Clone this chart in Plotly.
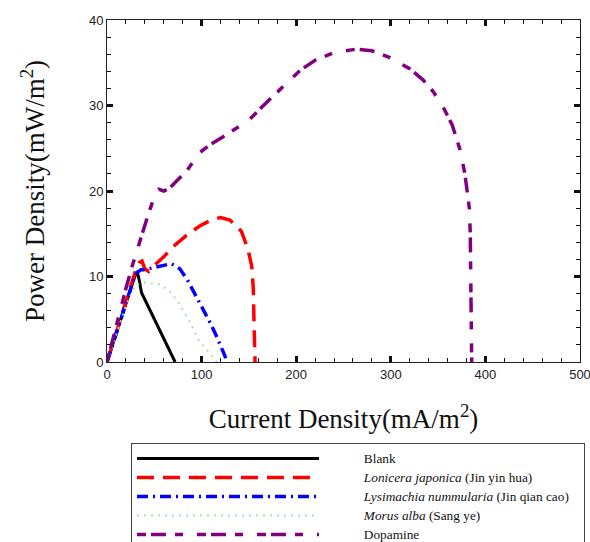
import plotly.graph_objects as go

# ---- data ----
blank_x = [0, 10, 20, 30, 32, 34, 36.5, 45, 55, 65, 72]
blank_y = [0, 3.4, 6.8, 10.2, 10.5, 9.6, 8.1, 6.2, 3.9, 1.6, 0]

lonicera_x = [0, 10, 20, 26, 30, 34, 37, 40, 44, 50, 60, 70, 84, 98, 110, 120, 130, 142, 149, 153, 154.7, 155.4, 156.4, 156.5]
lonicera_y = [0, 3.5, 7.0, 9.3, 10.6, 11.6, 11.8, 10.9, 10.6, 11.3, 12.3, 13.5, 14.8, 15.9, 16.6, 16.9, 16.6, 15.3, 13.2, 11.2, 8.5, 4.6, 0.7, 0]

lysimachia_x = [0, 10, 20, 28, 32, 36, 40, 50, 60, 68, 77, 85, 95, 100, 109, 115, 120, 124, 127]
lysimachia_y = [0, 3.4, 6.9, 9.6, 10.5, 10.8, 10.8, 11.0, 11.3, 11.5, 10.9, 9.6, 7.6, 6.6, 4.6, 3.2, 2.0, 0.9, 0]

morus_x = [0, 10, 20, 30, 40, 56, 68, 77, 88, 96, 105, 112, 116]
morus_y = [0, 3.3, 6.6, 9.0, 9.3, 9.1, 8.1, 6.7, 4.6, 2.7, 1.5, 0.6, 0]

dopamine_x = [0, 10, 20, 26, 32, 38, 44, 50, 55, 60, 66, 72, 84, 98, 110, 125, 150, 170, 190, 204, 220, 240, 264, 280, 299, 320, 334, 345, 355, 365, 373, 378, 380, 383, 384, 384.5, 385, 385.5]
dopamine_y = [0, 4.4, 8.6, 11.0, 13.2, 15.5, 17.4, 19.3, 20.2, 20.0, 20.3, 21.0, 22.3, 24.5, 25.5, 26.5, 28.3, 30.5, 32.6, 34.1, 35.3, 36.2, 36.6, 36.4, 35.6, 34.3, 33.0, 31.6, 29.9, 27.7, 24.9, 22.2, 20.6, 18.0, 15.1, 11.0, 7.3, 0]

names = [
    "Blank",
    "<i>Lonicera japonica</i> (Jin yin hua)",
    "<i>Lysimachia nummularia</i> (Jin qian cao)",
    "<i>Morus alba</i> (Sang ye)",
    "Dopamine",
]

x_ticks = [0, 100, 200, 300, 400, 500]
y_ticks = [0, 10, 20, 30, 40]

# legend text gap (space between sample line and label) and right padding
LEAD = "\u00a0" * 12
TRAIL = "\u00a0" * 3

# ---- figure ----
fig = go.Figure()
styles = [
    dict(color="#000000", width=3, dash="solid"),
    dict(color="#ff0000", width=3.5, dash="17px,9px"),
    dict(color="#0000ff", width=3.5, dash="11px,5px,2px,5px"),
    dict(color="#b2dcae", width=2, dash="2px,5px"),
    dict(color="#800080", width=3.5, dash="9px,5px,15px,9px,8px,14px"),
]
data = [(blank_x, blank_y), (lonicera_x, lonicera_y), (lysimachia_x, lysimachia_y),
        (morus_x, morus_y), (dopamine_x, dopamine_y)]
for i, ((xs, ys), nm, ln) in enumerate(zip(data, names, styles)):
    label = '<span style="font-size:13.3px">' + LEAD + nm + (TRAIL if i == 2 else "") + "</span>"
    fig.add_trace(go.Scatter(x=xs, y=ys, mode="lines", name=label, line=ln))

axis_common = dict(
    showline=True, linecolor="#222222", linewidth=1, mirror="allticks",
    ticks="inside", ticklen=6, tickwidth=3, tickcolor="#111111",
    showgrid=False, zeroline=False, ticklabeloverflow="allow",
    tickfont=dict(family="Liberation Sans, Arial", size=13, color="#222222"),
)

fig.update_layout(
    width=590, height=542,
    margin=dict(l=107, r=10, t=20, b=180, autoexpand=False),
    paper_bgcolor="white", plot_bgcolor="white",
    showlegend=True,
    legend=dict(
        x=0.0507, y=-0.237, xanchor="left", yanchor="top",
        bordercolor="#444444", borderwidth=1,
        font=dict(family="Liberation Serif, Times New Roman", size=10.8, color="#111111"),
        itemwidth=182, tracegroupgap=0,
    ),
    xaxis=dict(
        range=[0, 500], tickvals=x_ticks,
        minor=dict(dtick=20, ticks="inside", ticklen=4, tickwidth=1, tickcolor="#111111"),
        title=dict(text="Current Density(mA/m<sup>2</sup>)",
                   font=dict(family="Liberation Serif, Times New Roman", size=27, color="#111111"),
                   standoff=28),
        **axis_common,
    ),
    yaxis=dict(
        range=[0, 40], tickvals=y_ticks,
        minor=dict(dtick=2, ticks="inside", ticklen=4, tickwidth=1, tickcolor="#111111"),
        title=dict(text="Power Density(mW/m<sup>2</sup>)",
                   font=dict(family="Liberation Serif, Times New Roman", size=27, color="#111111"),
                   standoff=36),
        **axis_common,
    ),
)

fig.write_html("out.html")
